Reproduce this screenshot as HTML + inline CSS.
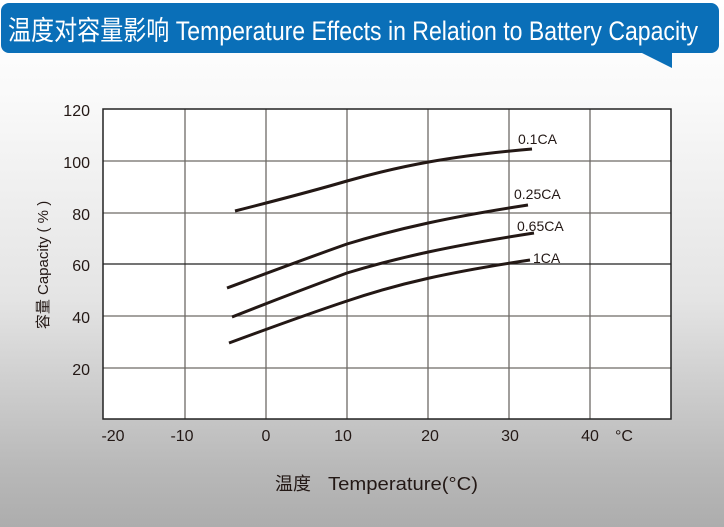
<!DOCTYPE html>
<html><head><meta charset="utf-8"><style>
html,body{margin:0;padding:0;}
body{width:724px;height:527px;overflow:hidden;background:linear-gradient(#ffffff 0px,#fafafa 90px,#e4e4e4 300px,#b8b8b8 470px,#adadad 527px);}
</style></head><body>
<svg width="724" height="527" xmlns="http://www.w3.org/2000/svg" style="position:absolute;left:0;top:0">
<rect x="1" y="3" width="718" height="50" rx="8" fill="#0a6fb8"/>
<polygon points="640,52 672,52 672,68" fill="#0a6fb8"/>
<text x="8" y="40" fill="#fff" font-size="27" font-family="Liberation Sans Narrow, Liberation Sans, Noto Sans CJK SC, sans-serif" textLength="690" lengthAdjust="spacingAndGlyphs">温度对容量影响 Temperature Effects in Relation to Battery Capacity</text>
<rect x="103" y="109" width="568" height="310" fill="#fff"/>
<g stroke="#6e6a66" stroke-width="1.3">
<line x1="185" y1="109" x2="185" y2="419"/><line x1="266" y1="109" x2="266" y2="419"/>
<line x1="347" y1="109" x2="347" y2="419"/><line x1="428" y1="109" x2="428" y2="419"/>
<line x1="509" y1="109" x2="509" y2="419"/><line x1="590" y1="109" x2="590" y2="419"/>
<line x1="103" y1="161" x2="671" y2="161"/><line x1="103" y1="213" x2="671" y2="213"/>
<line x1="103" y1="316" x2="671" y2="316"/><line x1="103" y1="368" x2="671" y2="368"/>
</g>
<line x1="103" y1="264" x2="671" y2="264" stroke="#222" stroke-width="1.3"/>
<rect x="103" y="109" width="568" height="310" fill="none" stroke="#222" stroke-width="1.5"/>
<g fill="none" stroke="#231815" stroke-width="3">
<path d="M235,211 C290,197 330,186 347,181 C400,166 450,156 532,149"/>
<path d="M227,288 C270,272 310,257 347,244 C400,228 450,217 528,205"/>
<path d="M232,317 C280,298 320,283 347,273 C400,257 450,246 534,233"/>
<path d="M229,343 C275,326 320,310 347,301 C400,283 450,272 530,260"/>
</g>
<g font-family="Liberation Sans, sans-serif" font-size="14" fill="#231815">
<text x="518" y="144">0.1CA</text><text x="514" y="199">0.25CA</text>
<text x="517" y="231">0.65CA</text><text x="533" y="263">1CA</text>
</g>
<g font-family="Liberation Sans, sans-serif" font-size="16" fill="#231815" text-anchor="end">
<text x="90" y="116">120</text><text x="90" y="168">100</text><text x="90" y="220">80</text>
<text x="90" y="271">60</text><text x="90" y="323">40</text><text x="90" y="375">20</text>
</g>
<g font-family="Liberation Sans, sans-serif" font-size="16" fill="#231815" text-anchor="middle">
<text x="113" y="441">-20</text><text x="182" y="441">-10</text><text x="266" y="441">0</text>
<text x="343" y="441">10</text><text x="430" y="441">20</text><text x="510" y="441">30</text>
<text x="590" y="441">40</text><text x="624" y="441">°C</text>
</g>
<text transform="translate(48,265) rotate(-90)" text-anchor="middle" font-family="Liberation Sans, Noto Sans CJK SC, sans-serif" font-size="15" fill="#231815">容量 Capacity ( % )</text>
<text x="275" y="490" font-family="Noto Sans CJK SC, sans-serif" font-size="18" fill="#231815">温度</text>
<text x="328" y="490" font-family="Liberation Sans, sans-serif" font-size="18" fill="#231815" textLength="150" lengthAdjust="spacingAndGlyphs">Temperature(°C)</text>
</svg>
</body></html>
